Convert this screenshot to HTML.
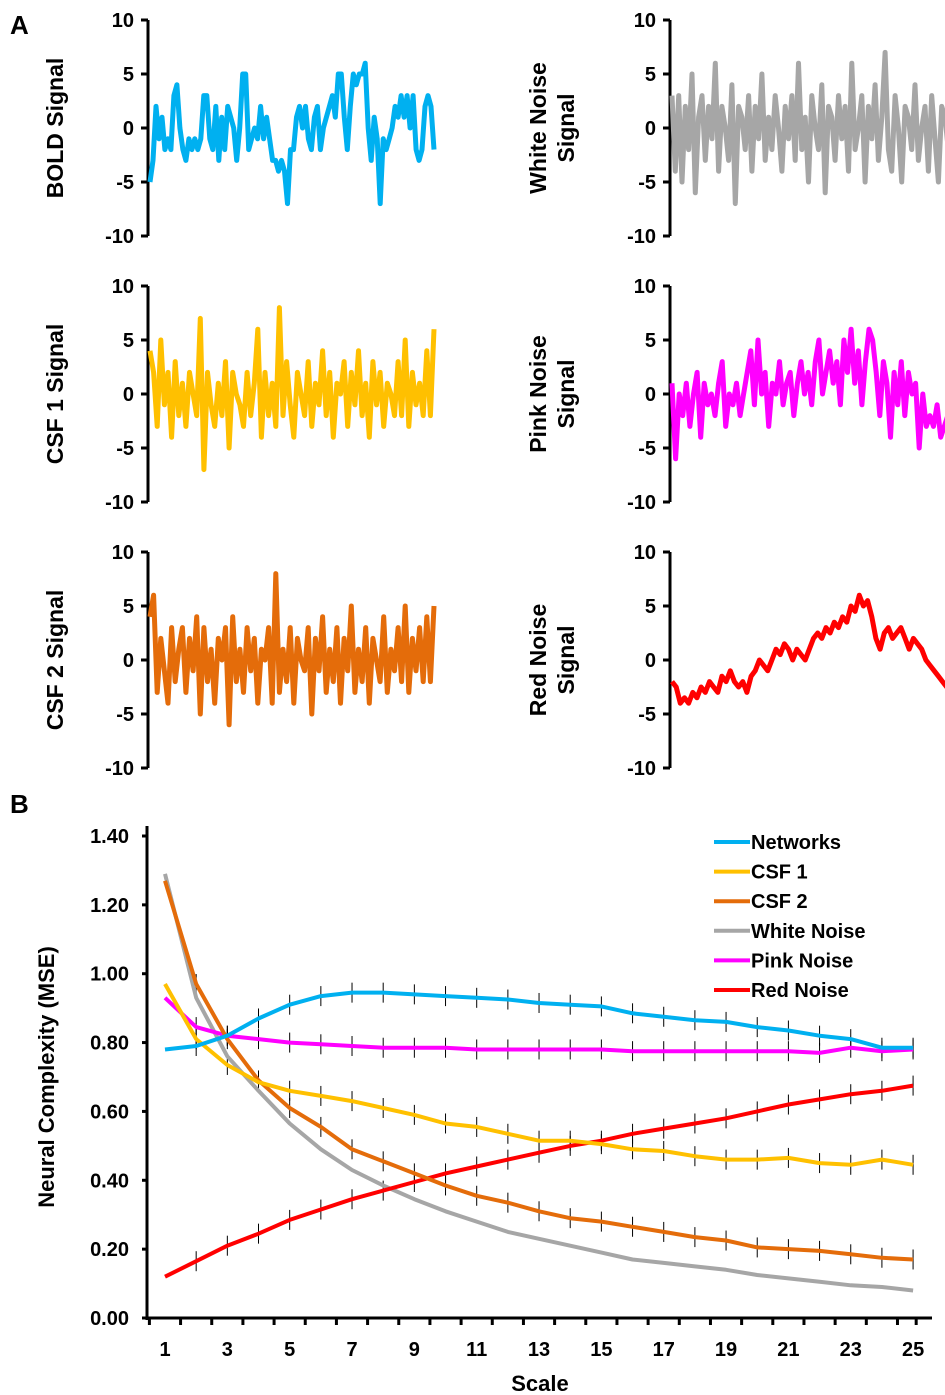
<!DOCTYPE html>
<html><head><meta charset="utf-8"><style>
body{margin:0;background:#fff;}
svg{display:block;font-family:"Liberation Sans",Arial,sans-serif;font-weight:bold;}
</style></head><body>
<svg id="fig" width="945" height="1395" viewBox="0 0 945 1395">
<text x="10" y="34" font-size="26">A</text>
<text x="10" y="813" font-size="26">B</text>
<g id="sig"></g>
<g id="mse"></g>
</svg>
<script>
const bold=[-5,-3,2,-1,1,-2,-1,-2,3,4,0,-2,-3,-1,-2,-1,-2,-1,3,3,-1,-2,2,-3,1,-2,2,1,0,-3,0,5,5,-2,-1,0,-1,2,-1,1,-1,-3,-3,-4,-3,-4,-7,-2,-2,1,2,0,2,-1,-2,1,2,-2,0,1,2,3,1,5,5,1,-2,2,5,4,5,5,6,0,-3,1,-1,-7,-1,-2,-1,0,2,1,3,1,3,0,3,-2,-3,-2,2,3,2,-2];
const white=[3,-4,3,-5,2,-2,5,-6,1,3,-3,2,-1,6,-4,2,0,-3,4,-7,2,1,-2,3,-4,2,-1,5,-3,1,-2,3,0,-4,2,-1,3,-3,6,-2,1,-5,3,0,-2,4,-6,2,1,-3,3,-1,2,-4,6,-2,0,3,-5,2,-1,4,-3,1,7,-2,-4,3,0,-5,2,1,-2,4,-3,0,2,-4,3,-1,-5,2,1,-2,3,-3];
const csf1=[4,2,-3,5,-1,2,-4,3,-2,1,-3,2,0,-2,7,-7,2,-1,-3,1,-2,3,-5,2,0,-1,-3,2,-2,1,6,-4,2,-2,1,-3,8,-2,3,-1,-4,2,0,-2,3,-3,1,-1,4,-2,2,-4,1,0,3,-3,2,-1,4,-2,1,-4,3,-1,2,-3,1,0,-2,3,-2,5,-3,2,-1,1,-2,4,-2,6];
const csf2=[4,6,-3,2,-1,-4,3,-2,1,3,-3,2,-1,4,-5,3,-2,1,-4,2,0,3,-6,4,-2,1,-3,3,-1,2,-4,1,0,3,-4,8,-3,1,-2,3,-4,2,0,-1,3,-5,2,-1,4,-3,1,-2,3,-4,2,-1,5,-3,1,-2,3,-4,2,0,-2,4,-3,1,-1,3,-2,5,-3,2,-1,3,-2,4,-2,5];
const pink=[1,-6,0,-2,1,-3,0,2,-4,1,-1,0,-2,1,3,-3,0,-1,1,-2,0,2,4,-1,5,0,2,-3,1,0,3,-1,1,2,-2,1,3,0,2,-1,3,5,0,2,4,1,3,-1,5,2,6,1,4,-1,3,6,5,2,-2,3,1,-4,2,-1,3,-2,2,0,1,-5,0,-3,-2,-3,-1,-4,-3,-2,-4,-3];
const red=[-2,-2.5,-4,-3.5,-4,-3,-3.5,-2.5,-3,-2,-2.5,-3,-1.5,-2,-1,-2,-2.5,-2,-3,-1.5,-1,0,-0.5,-1,0,1,0.5,1.5,1,0,1,0.5,0,1,2,2.5,2,3,2.5,3.5,3,4,3.5,5,4.5,6,5,5.5,4,2,1,2.5,3,2,2.5,3,2,1,2,1.5,1,0,-0.5,-1,-1.5,-2,-2.5,-3,-3.5];
const sigNames=["BOLD Signal","White Noise|Signal","CSF 1 Signal","Pink Noise|Signal","CSF 2 Signal","Red Noise|Signal"];
const sigData=[bold,white,csf1,pink,csf2,red];
const sigColors=["#00b0f0","#a6a6a6","#ffc000","#ff00ff","#e46c0a","#ff0000"];
const sigTicks=[10,5,0,-5,-10];
const NS="http://www.w3.org/2000/svg";
function mk(tag,attrs,parent){const e=document.createElementNS(NS,tag);for(const k in attrs)e.setAttribute(k,attrs[k]);parent.appendChild(e);return e;}
const sg=document.getElementById('sig');
const rowTop=[20,286,552];
for(let i=0;i<6;i++){
  const r=Math.floor(i/2),c=i%2;
  const x0=c?670:148,x1=c?957:436,yT=rowTop[r],yB=yT+216;
  const ys=v=>yT+(10-v)/20*216;
  const g=mk('g',{},sg);
  
  
  const ax=mk('line',{x1:x0,y1:yT,x2:x0,y2:yB,stroke:'#000','stroke-width':3},g);
  
  
  sigTicks.forEach(t=>{
    mk('line',{x1:x0-7,y1:ys(t),x2:x0,y2:ys(t),stroke:'#000','stroke-width':3},g);
    const tx=mk('text',{x:x0-14,y:ys(t)+7,'font-size':20,'text-anchor':'end'},g);
    tx.textContent=t;
    
    
  });
  const parts=sigNames[i].split('|');
  const lx=c?552:55,cy=(yT+yB)/2;
  parts.forEach((p,k)=>{
    const off=(k-(parts.length-1)/2)*28;
    const tx=mk('text',{x:0,y:0,'font-size':23,'text-anchor':'middle',transform:`translate(${lx+off+8},${cy}) rotate(-90)`},g);
    tx.textContent=p;
    
    
  });
  const d=sigData[i],n=d.length;
  const pts=d.map((v,k)=>(x0+2+k*(x1-x0-4)/(n-1)).toFixed(1)+','+ys(v).toFixed(1)).join(' ');
  const pl=mk('polyline',{points:pts,fill:'none',stroke:sigColors[i],'stroke-width':5,'stroke-linejoin':'round'},g);
  
  
}
const scales=[1,2,3,4,5,6,7,8,9,10,11,12,13,14,15,16,17,18,19,20,21,22,23,24,25];
const networks=[0.78,0.79,0.82,0.87,0.91,0.935,0.945,0.945,0.94,0.935,0.93,0.925,0.915,0.91,0.905,0.885,0.875,0.865,0.86,0.845,0.835,0.82,0.81,0.785,0.785];
const csf1m=[0.97,0.81,0.735,0.685,0.66,0.645,0.63,0.61,0.59,0.565,0.555,0.535,0.515,0.515,0.505,0.49,0.485,0.47,0.46,0.46,0.465,0.45,0.445,0.46,0.445];
const csf2m=[1.27,0.97,0.81,0.69,0.61,0.555,0.49,0.455,0.42,0.385,0.355,0.335,0.31,0.29,0.28,0.265,0.25,0.235,0.225,0.205,0.2,0.195,0.185,0.175,0.17];
const whitem=[1.29,0.93,0.76,0.66,0.565,0.49,0.43,0.385,0.345,0.31,0.28,0.25,0.23,0.21,0.19,0.17,0.16,0.15,0.14,0.125,0.115,0.105,0.095,0.09,0.08];
const pinkm=[0.93,0.845,0.82,0.81,0.8,0.795,0.79,0.785,0.785,0.785,0.78,0.78,0.78,0.78,0.78,0.775,0.775,0.775,0.775,0.775,0.775,0.77,0.785,0.775,0.78];
const redm=[0.12,0.165,0.21,0.245,0.285,0.315,0.345,0.37,0.395,0.42,0.44,0.46,0.48,0.5,0.515,0.535,0.55,0.565,0.58,0.6,0.62,0.635,0.65,0.66,0.675];
const yTicks=[0,0.2,0.4,0.6,0.8,1.0,1.2,1.4];
const xTickLabels=[1,3,5,7,9,11,13,15,17,19,21,23,25];
const seriesNames=["Networks","CSF 1","CSF 2","White Noise","Pink Noise","Red Noise"];
const seriesData=[networks,csf1m,csf2m,whitem,pinkm,redm];
const seriesColors=["#00b0f0","#ffc000","#e46c0a","#a6a6a6","#ff00ff","#ff0000"];
const mg=document.getElementById('mse');
const X=s=>165+(s-1)*31.17, Y=v=>1318-v/1.4*482;
let e=mk('line',{x1:147,y1:826,x2:147,y2:1320,stroke:'#000','stroke-width':3},mg);

e=mk('line',{x1:146,y1:1318,x2:932,y2:1318,stroke:'#000','stroke-width':3},mg);

yTicks.forEach(t=>{
  mk('line',{x1:142,y1:Y(t),x2:148,y2:Y(t),stroke:'#000','stroke-width':3},mg);
  const tx=mk('text',{x:129,y:Y(t)+7,'font-size':20,'text-anchor':'end'},mg);
  tx.textContent=t.toFixed(2);
  
  
});
scales.concat([25.6]).forEach(s=>{const xx=X(s)-15.6;mk('line',{x1:xx,y1:1318,x2:xx,y2:1325,stroke:'#000','stroke-width':3},mg);});
xTickLabels.forEach(s=>{
  const tx=mk('text',{x:X(s),y:1356,'font-size':20,'text-anchor':'middle'},mg);
  tx.textContent=s;
  
  
});
e=mk('text',{x:540,y:1391,'font-size':22,'text-anchor':'middle'},mg);e.textContent='Scale';

e=mk('text',{x:0,y:0,'font-size':22,'text-anchor':'middle',transform:'translate(54,1077) rotate(-90)'},mg);e.textContent='Neural Complexity (MSE)';

[0,1,2,4,5].forEach(si=>{
  seriesData[si].forEach((v,k)=>{
    if(k===0)return;
    const xx=X(scales[k]);
    mk('line',{x1:xx,y1:Y(v)-10,x2:xx,y2:Y(v)+10,stroke:'#000','stroke-width':1},mg);
  });
});
[3,5,4,2,1,0].forEach(si=>{
  const pts=seriesData[si].map((v,k)=>X(scales[k]).toFixed(1)+','+Y(v).toFixed(1)).join(' ');
  const pl=mk('polyline',{points:pts,fill:'none',stroke:seriesColors[si],'stroke-width':4,'stroke-linejoin':'round'},mg);
  
  
});
seriesNames.forEach((nm,i)=>{
  const y=842+i*29.6;
  const lg=mk('g',{},mg);
  
  
  mk('line',{x1:714,y1:y,x2:750,y2:y,stroke:seriesColors[i],'stroke-width':4},lg);
  const tx=mk('text',{x:751,y:y+7,'font-size':20},lg);
  tx.textContent=nm;
});
</script>
</body></html>
